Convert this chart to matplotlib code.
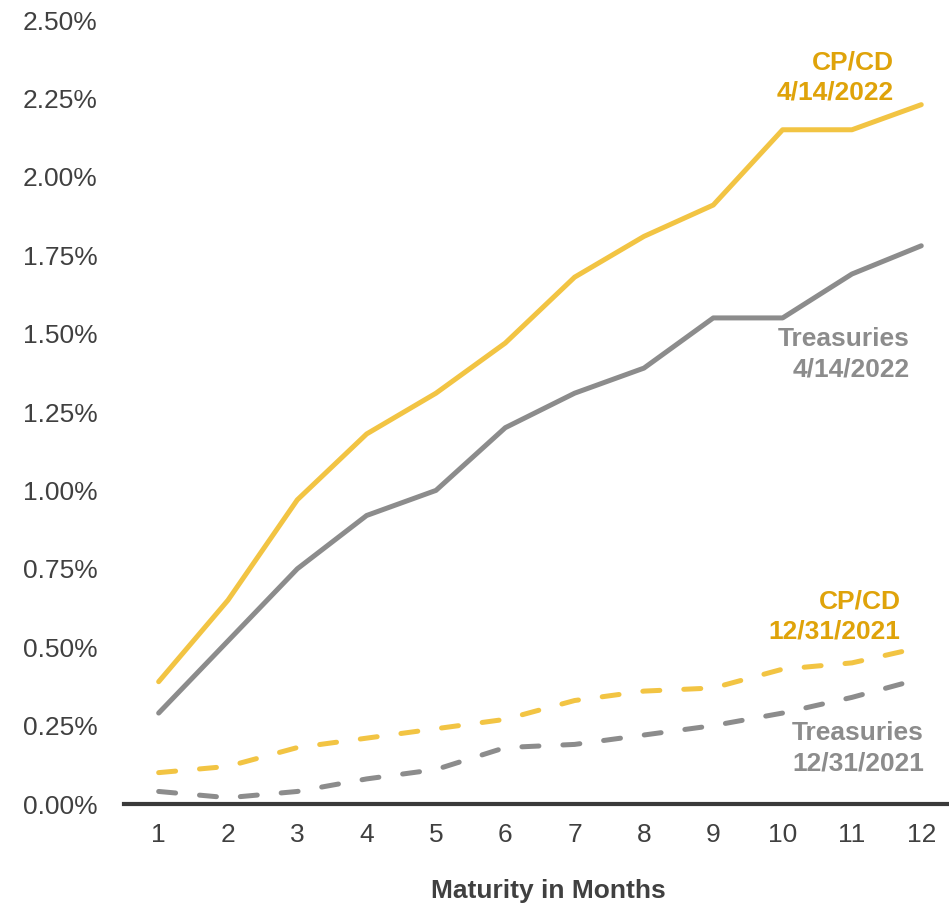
import matplotlib
matplotlib.use("Agg")
import matplotlib.pyplot as plt
from matplotlib.ticker import FuncFormatter

plt.rcParams['font.family'] = ['Liberation Sans', 'DejaVu Sans']

months = list(range(1, 13))
month_labels = [str(m) for m in months]
cpcd_2022 = [0.39, 0.65, 0.97, 1.18, 1.31, 1.47, 1.68, 1.81, 1.91, 2.15, 2.15, 2.23]
tsy_2022 = [0.29, 0.52, 0.75, 0.92, 1.00, 1.20, 1.31, 1.39, 1.55, 1.55, 1.69, 1.78]
cpcd_2021 = [0.10, 0.12, 0.18, 0.21, 0.24, 0.27, 0.33, 0.36, 0.37, 0.43, 0.45, 0.50]
tsy_2021 = [0.04, 0.02, 0.04, 0.08, 0.11, 0.18, 0.19, 0.22, 0.25, 0.29, 0.34, 0.40]
y_ticks = [0.0, 0.25, 0.5, 0.75, 1.0, 1.25, 1.5, 1.75, 2.0, 2.25, 2.5]

GOLD = '#F2C443'
GRAY = '#8C8C8C'
GOLD_TXT = '#DFA30A'
GRAY_TXT = '#8C8C8C'
DARK = '#404040'

W, H = 949, 907
fig = plt.figure(figsize=(W / 100, H / 100), dpi=100)
ax = fig.add_axes([124 / W, 1 - 804 / H, (W - 124) / W, 784 / H])

lw = 3.6
ax.plot(months, cpcd_2022, color=GOLD, lw=lw, solid_capstyle='round', solid_joinstyle='round')
ax.plot(months, tsy_2022, color=GRAY, lw=lw, solid_capstyle='round', solid_joinstyle='round')
ax.plot(months, cpcd_2021, color=GOLD, lw=lw, dashes=(3.4, 4.8), dash_capstyle='round')
ax.plot(months, tsy_2021, color=GRAY, lw=lw, dashes=(3.4, 4.8), dash_capstyle='round')

ax.set_xlim(0.5, 12.4)
ax.set_ylim(0, 2.5)
ax.set_xticks(months)
ax.set_xticklabels(month_labels)
ax.set_yticks(y_ticks)
ax.yaxis.set_major_formatter(FuncFormatter(lambda v, p: f"{v:.2f}%"))
ax.tick_params(axis='both', length=0, labelsize=19, colors=DARK)
ax.tick_params(axis='y', pad=19)
ax.tick_params(axis='x', pad=14)
for s in ['top', 'right', 'left']:
    ax.spines[s].set_visible(False)
ax.spines['bottom'].set_color('#3A3A3A')
ax.spines['bottom'].set_linewidth(3)
ax.spines['bottom'].set_zorder(5)

ax.set_xlabel('Maturity in Months', fontsize=19, fontweight='bold', color=DARK)
ax.xaxis.set_label_coords(0.514, -0.096)

ann = dict(fontsize=19, fontweight='bold', ha='right', va='center',
           multialignment='right', linespacing=1.33)
ax.text(11.60, 2.316, 'CP/CD\n4/14/2022', color=GOLD_TXT, **ann)
ax.text(11.83, 1.435, 'Treasuries\n4/14/2022', color=GRAY_TXT, **ann)
ax.text(11.70, 0.597, 'CP/CD\n12/31/2021', color=GOLD_TXT, **ann)
ax.text(12.04, 0.179, 'Treasuries\n12/31/2021', color=GRAY_TXT, **ann)

fig.savefig('out.png', dpi=100)
